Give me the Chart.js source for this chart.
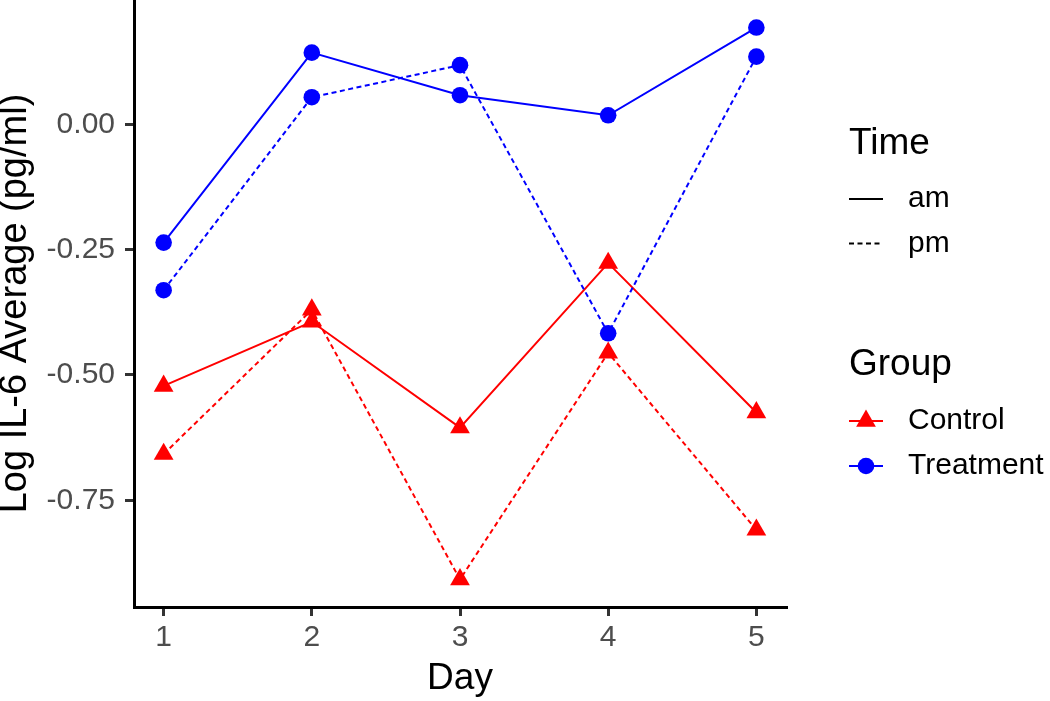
<!DOCTYPE html>
<html><head><meta charset="utf-8">
<script src="https://cdn.jsdelivr.net/npm/chart.js@4.4.1/dist/chart.umd.min.js"></script>
<style>html,body{margin:0;padding:0;background:#fff;} canvas{display:block;}</style>
</head><body>
<canvas id="c" width="1050" height="701"></canvas>
<script>
// ---- data ----
const days = [1, 2, 3, 4, 5];
const yTicks = [-0.75, -0.50, -0.25, 0.00];
const controlAm   = [-0.522, -0.394, -0.605, -0.277, -0.575];
const controlPm   = [-0.658, -0.370, -0.908, -0.456, -0.809];
const treatmentAm = [-0.236,  0.143,  0.058,  0.018,  0.193];
const treatmentPm = [-0.331,  0.054,  0.118, -0.417,  0.135];
const xTitle = 'Day';
const yTitle = 'Log IL-6 Average (pg/ml)';
const timeTitle = 'Time';
const timeLabels = ['am', 'pm'];
const groupTitle = 'Group';
const groupLabels = ['Control', 'Treatment'];

// ---- styles ----
const RED = '#FF0000', BLUE = '#0000FF';
const FONT = '"Liberation Sans", Arial, sans-serif';
const DASH = [5, 3.5];
const TRI_R = 11.4, CIRC_R = 8.3, LINE_W = 2;

const pts = arr => days.map((d, i) => ({x: d, y: arr[i]}));

function lineDs(arr, color, dashed, order) {
  return {data: pts(arr), borderColor: color, borderWidth: LINE_W, borderDash: dashed ? DASH : [],
          pointRadius: 0, pointHoverRadius: 0, fill: false, tension: 0, order: order, clip: false};
}
function pointDs(arr, color, style, r, order) {
  return {data: pts(arr), showLine: false, pointStyle: style, pointRadius: r, pointHoverRadius: r,
          pointBackgroundColor: color, pointBorderWidth: 0, borderWidth: 0, borderColor: color,
          order: order, clip: false};
}

const legendPlugin = {
  id: 'ggLegend',
  afterDraw(chart) {
    const c = chart.ctx;
    c.save();
    c.fillStyle = '#000';
    c.textAlign = 'left';
    c.textBaseline = 'alphabetic';
    c.font = '37px ' + FONT;
    c.fillText(timeTitle, 849, 154);
    c.fillText(groupTitle, 849, 375);
    const kx1 = 849, kx2 = 883, kcx = 866, tx = 908;
    const timeY = [199, 243.5];
    const groupY = [421, 466];
    c.font = '30px ' + FONT;
    c.textBaseline = 'middle';
    // time keys
    timeLabels.forEach((lab, i) => {
      c.save();
      c.strokeStyle = '#000'; c.lineWidth = LINE_W;
      c.setLineDash(i === 1 ? DASH : []);
      c.beginPath(); c.moveTo(kx1, timeY[i]); c.lineTo(kx2, timeY[i]); c.stroke();
      c.restore();
      c.fillText(lab, tx, timeY[i]);
    });
    // group keys
    const cols = [RED, BLUE];
    groupLabels.forEach((lab, i) => {
      const y = groupY[i];
      c.save();
      c.strokeStyle = cols[i]; c.fillStyle = cols[i]; c.lineWidth = LINE_W;
      c.beginPath(); c.moveTo(kx1, y); c.lineTo(kx2, y); c.stroke();
      c.beginPath();
      if (i === 0) {
        let rad = 0;
        c.moveTo(kcx + Math.sin(rad) * TRI_R, y - Math.cos(rad) * TRI_R);
        rad += 2 * Math.PI / 3;
        c.lineTo(kcx + Math.sin(rad) * TRI_R, y - Math.cos(rad) * TRI_R);
        rad += 2 * Math.PI / 3;
        c.lineTo(kcx + Math.sin(rad) * TRI_R, y - Math.cos(rad) * TRI_R);
        c.closePath();
      } else {
        c.arc(kcx, y, CIRC_R, 0, Math.PI * 2);
      }
      c.fill();
      c.restore();
      c.fillText(lab, tx, y);
    });
    c.restore();
  }
};

new Chart(document.getElementById('c'), {
  type: 'line',
  data: {
    datasets: [
      pointDs(treatmentAm, BLUE, 'circle', CIRC_R, 0),
      pointDs(treatmentPm, BLUE, 'circle', CIRC_R, 0),
      pointDs(controlAm, RED, 'triangle', TRI_R, 1),
      pointDs(controlPm, RED, 'triangle', TRI_R, 1),
      lineDs(treatmentAm, BLUE, false, 2),
      lineDs(treatmentPm, BLUE, true, 2),
      lineDs(controlAm, RED, false, 3),
      lineDs(controlPm, RED, true, 3)
    ]
  },
  options: {
    responsive: false,
    animation: false,
    devicePixelRatio: 1,
    events: [],
    layout: {autoPadding: false, padding: {left: 0, top: 0, right: 264, bottom: 0}},
    plugins: {legend: {display: false}, tooltip: {enabled: false}},
    scales: {
      x: {
        type: 'linear', min: 0.8, max: 5.2,
        afterBuildTicks: s => { s.ticks = days.map(v => ({value: v})); },
        afterFit: s => { s.height = 94; s.paddingLeft = 0; s.paddingRight = 0; },
        ticks: {color: '#4D4D4D', font: {family: FONT, size: 30, lineHeight: 1.2}, padding: 4,
                callback: v => String(v), maxRotation: 0, autoSkip: false},
        grid: {drawOnChartArea: false, drawTicks: true, tickLength: 9, tickColor: '#333333', tickWidth: 3, lineWidth: 3, color: '#333333'},
        border: {display: true, color: '#000', width: 3},
        title: {display: true, text: xTitle, color: '#000', font: {family: FONT, size: 37, lineHeight: 1.2}, padding: 0}
      },
      y: {
        type: 'linear', min: -0.963, max: 0.248,
        afterBuildTicks: s => { s.ticks = yTicks.map(v => ({value: v})); },
        afterFit: s => { s.width = 134; s.paddingTop = 0; s.paddingBottom = 0; },
        ticks: {color: '#4D4D4D', font: {family: FONT, size: 30}, padding: 10,
                callback: v => Number(v).toFixed(2), autoSkip: false},
        grid: {drawOnChartArea: false, drawTicks: true, tickLength: 9, tickColor: '#333333', tickWidth: 3, lineWidth: 3, color: '#333333'},
        border: {display: true, color: '#000', width: 3},
        title: {display: true, text: yTitle, color: '#000', font: {family: FONT, size: 38, lineHeight: 0.842}, padding: 0}
      }
    }
  },
  plugins: [legendPlugin]
});
</script>
</body></html>
